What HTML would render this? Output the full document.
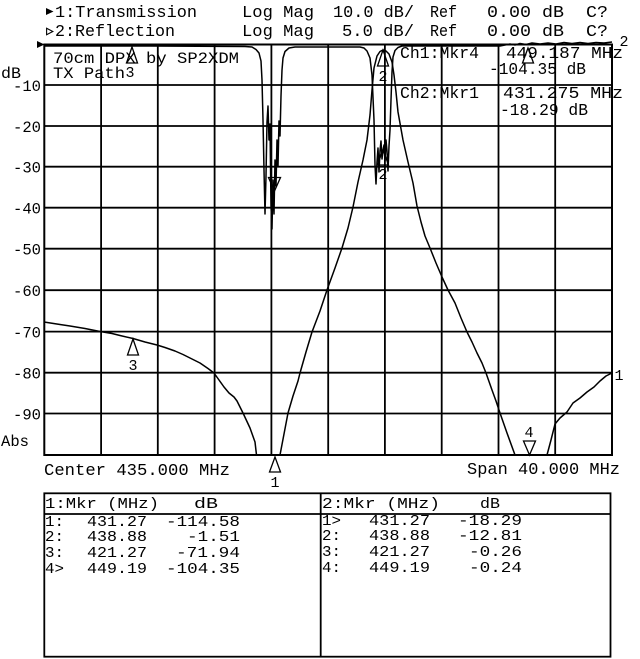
<!DOCTYPE html>
<html>
<head>
<meta charset="utf-8">
<style>
  html, body { margin: 0; padding: 0; background: #fff; }
  svg { display: block; }
  text { font-family: "Liberation Mono", "DejaVu Sans Mono", monospace; fill: #000; }
</style>
</head>
<body>
<svg width="640" height="659" viewBox="0 0 640 659" xmlns="http://www.w3.org/2000/svg">
  <rect x="0" y="0" width="640" height="659" fill="#fff"/>

  <!-- Header -->
  <polygon points="46,8 53.5,11.5 46,15" fill="#000"/>
  <polygon points="46.6,28.3 52.8,31.5 46.6,34.7" fill="none" stroke="#000" stroke-width="1.1"/>
  <g font-size="17">
    <text x="55" y="17" textLength="142" lengthAdjust="spacingAndGlyphs">1:Transmission</text>
    <text x="242" y="17" textLength="72" lengthAdjust="spacingAndGlyphs">Log Mag</text>
    <text x="333" y="17" textLength="81" lengthAdjust="spacingAndGlyphs">10.0 dB/</text>
    <text x="430" y="17" textLength="27" lengthAdjust="spacingAndGlyphs">Ref</text>
    <text x="487" y="17" textLength="77" lengthAdjust="spacingAndGlyphs">0.00 dB</text>
    <text x="586" y="17" textLength="22" lengthAdjust="spacingAndGlyphs">C?</text>

    <text x="55" y="36" textLength="120" lengthAdjust="spacingAndGlyphs">2:Reflection</text>
    <text x="242" y="36" textLength="72" lengthAdjust="spacingAndGlyphs">Log Mag</text>
    <text x="342" y="36" textLength="72" lengthAdjust="spacingAndGlyphs">5.0 dB/</text>
    <text x="430" y="36" textLength="27" lengthAdjust="spacingAndGlyphs">Ref</text>
    <text x="487" y="36" textLength="77" lengthAdjust="spacingAndGlyphs">0.00 dB</text>
    <text x="586" y="36" textLength="22" lengthAdjust="spacingAndGlyphs">C?</text>
  </g>

  <!-- reference arrow -->
  <polygon points="37,41 44.5,44.5 37,48" fill="#000"/>

  <!-- Grid -->
  <g stroke="#000" stroke-width="1.8" fill="none">
    <line x1="101.1" y1="44.5" x2="101.1" y2="455"/>
    <line x1="157.8" y1="44.5" x2="157.8" y2="455"/>
    <line x1="214.6" y1="44.5" x2="214.6" y2="455"/>
    <line x1="271.4" y1="44.5" x2="271.4" y2="455"/>
    <line x1="328.2" y1="44.5" x2="328.2" y2="455"/>
    <line x1="384.9" y1="44.5" x2="384.9" y2="455"/>
    <line x1="441.7" y1="44.5" x2="441.7" y2="455"/>
    <line x1="498.5" y1="44.5" x2="498.5" y2="455"/>
    <line x1="555.2" y1="44.5" x2="555.2" y2="455"/>

    <line x1="44.3" y1="85" x2="612" y2="85"/>
    <line x1="44.3" y1="126" x2="612" y2="126"/>
    <line x1="44.3" y1="166.7" x2="612" y2="166.7"/>
    <line x1="44.3" y1="207.7" x2="612" y2="207.7"/>
    <line x1="44.3" y1="248.7" x2="612" y2="248.7"/>
    <line x1="44.3" y1="290.2" x2="612" y2="290.2"/>
    <line x1="44.3" y1="331.6" x2="612" y2="331.6"/>
    <line x1="44.3" y1="372.7" x2="612" y2="372.7"/>
    <line x1="44.3" y1="413.5" x2="612" y2="413.5"/>
    <rect x="44.3" y="44.5" width="567.7" height="410.5" stroke-width="2"/>
  </g>

  <!-- Axis labels -->
  <g font-size="16">
    <text x="1" y="78" textLength="20" lengthAdjust="spacingAndGlyphs">dB</text>
    <text x="13" y="91" textLength="28" lengthAdjust="spacingAndGlyphs">-10</text>
    <text x="13" y="132" textLength="28" lengthAdjust="spacingAndGlyphs">-20</text>
    <text x="13" y="172.7" textLength="28" lengthAdjust="spacingAndGlyphs">-30</text>
    <text x="13" y="213.5" textLength="28" lengthAdjust="spacingAndGlyphs">-40</text>
    <text x="13" y="254.5" textLength="28" lengthAdjust="spacingAndGlyphs">-50</text>
    <text x="13" y="296" textLength="28" lengthAdjust="spacingAndGlyphs">-60</text>
    <text x="13" y="337.5" textLength="28" lengthAdjust="spacingAndGlyphs">-70</text>
    <text x="13" y="378.5" textLength="28" lengthAdjust="spacingAndGlyphs">-80</text>
    <text x="13" y="419.5" textLength="28" lengthAdjust="spacingAndGlyphs">-90</text>
    <text x="1" y="446" textLength="28" lengthAdjust="spacingAndGlyphs">Abs</text>
  </g>

  <!-- In-plot title -->
  <g font-size="16">
    <text x="53" y="63" textLength="186" lengthAdjust="spacingAndGlyphs">70cm DPX by SP2XDM</text>
    <text x="53" y="78" textLength="72" lengthAdjust="spacingAndGlyphs">TX Path</text>
  </g>

  <!-- Marker readouts -->
  <g font-size="17">
    <text x="400" y="58" textLength="79" lengthAdjust="spacingAndGlyphs">Ch1:Mkr4</text>
    <text x="506" y="58" textLength="117" lengthAdjust="spacingAndGlyphs">449.187 MHz</text>
    <text x="489" y="74" textLength="97" lengthAdjust="spacingAndGlyphs">-104.35 dB</text>
    <text x="400" y="98" textLength="79" lengthAdjust="spacingAndGlyphs">Ch2:Mkr1</text>
    <text x="503" y="98" textLength="120" lengthAdjust="spacingAndGlyphs">431.275 MHz</text>
    <text x="500" y="115" textLength="88" lengthAdjust="spacingAndGlyphs">-18.29 dB</text>
  </g>

  <!-- Channel 2 trace (reflection) -->
  <polyline fill="none" stroke="#000" stroke-width="1.5" stroke-linejoin="round" points="
    44,46 150,46 245,46.5 252,47 256,49.5 259,53 261,61 262,80 263,120 264,170 265,214 266,176 267,122 268,106 269,140 270,124 271,206 272,229 273,180 274,214 275,160 276,186 277,140 278,166 279,121 280,136 281,96 282,70 283,58 285,51.5 289,48 295,47
    360,47 364,48 367,51 370,58 372,75 374,120 375,165 376,184 377,162 378,148 379,172 380,151 381,141 382,159 383,150 384,145 385,161 386,140 387,151 388,171 389,146 390,130 391,100 392,72 393,57 395,50.5 398,47.5 402,46
    500,46 505,45 510,44 515,45 520,43.5 526,44.5 532,43 540,44 548,43 556,44 564,42.5 572,43.5 580,42.5 588,43.5 596,42.5 604,43 612,42"/>

  <!-- Channel 1 trace (transmission) -->
  <polyline fill="none" stroke="#000" stroke-width="1.5" stroke-linejoin="round" points="
    44,322 60,324.5 70,326 85,328.5 100,331.5 112,333.5 120,335.5 133,338.5 145,342 157,345 165,347.5 175,351 183,354.5 190,358 200,363 208,368.5 214,373 219,380 224,387 229,393 234,397 237,401 243,413 250,428 255,442 256.5,455 280,455 284,434 288,413 293,396 298,381 300,373 306,352 312,332 320,311 327,290 335,268 342,248 348,228 353,207 358,182 363,160 367,140 370,115 372,90 374,68 377,56 380,51.5 383,50 386,51 389,54 392,62 394,75 396,92 398,112 403,140 408,162 413,183 417,206 421,222 425,236 430,248 436,263 442,277 448,290 455,303 461,318 467,332 472,342 477,353 482,363 486,373 492,390 496,401 500,413 507,433 515,455 547,455 551,440 555,424 560,418 567,412 573,403 580,398 587,392 594,387 600,381 606,376 612,373"/>

  <!-- Markers -->
  <g fill="none" stroke="#000" stroke-width="1.3" stroke-linejoin="miter">
    <polygon points="133,339 127.5,355 138.5,355"/>
    <polygon points="275,457 269.5,472 280.5,472"/>
    <polygon points="383,50 377.5,66 388.5,66"/>
    <polygon points="523.5,441 535.5,441 529.5,455"/>
    <polygon points="132,47 126.5,63 137.5,63"/>
    <polygon points="528,48 522.5,63 533.5,63"/>
    <polygon points="383,149.5 377.5,165 388.5,165"/>
    <polygon points="268.5,177.5 280.5,177.5 274.5,191"/>
  </g>
  <g font-size="15" text-anchor="middle">
    <text x="133" y="370">3</text>
    <text x="275" y="487">1</text>
    <text x="383" y="81">2</text>
    <text x="529" y="437">4</text>
    <text x="130" y="77">3</text>
    <text x="383" y="179">2</text>
    <text x="619" y="380">1</text>
    <text x="624" y="46">2</text>
  </g>

  <!-- Center / Span -->
  <g font-size="17">
    <text x="44" y="475" textLength="186" lengthAdjust="spacingAndGlyphs">Center 435.000 MHz</text>
    <text x="467" y="474" textLength="153" lengthAdjust="spacingAndGlyphs">Span 40.000 MHz</text>
  </g>

  <!-- Marker table -->
  <g stroke="#000" stroke-width="1.8" fill="none">
    <rect x="44.3" y="493.3" width="566.2" height="163.4"/>
    <line x1="320.7" y1="493.3" x2="320.7" y2="656.7"/>
    <line x1="44.3" y1="514" x2="610.5" y2="514"/>
  </g>
  <g font-size="15">
    <text x="45" y="508" textLength="114" lengthAdjust="spacingAndGlyphs">1:Mkr (MHz)</text>
    <text x="194" y="508" textLength="24" lengthAdjust="spacingAndGlyphs">dB</text>

    <text x="45" y="526" textLength="19" lengthAdjust="spacingAndGlyphs">1:</text>
    <text x="87" y="526" textLength="60" lengthAdjust="spacingAndGlyphs">431.27</text>
    <text x="166" y="526" textLength="74" lengthAdjust="spacingAndGlyphs">-114.58</text>

    <text x="45" y="541" textLength="19" lengthAdjust="spacingAndGlyphs">2:</text>
    <text x="87" y="541" textLength="60" lengthAdjust="spacingAndGlyphs">438.88</text>
    <text x="187" y="541" textLength="53" lengthAdjust="spacingAndGlyphs">-1.51</text>

    <text x="45" y="557" textLength="19" lengthAdjust="spacingAndGlyphs">3:</text>
    <text x="87" y="557" textLength="60" lengthAdjust="spacingAndGlyphs">421.27</text>
    <text x="176" y="557" textLength="64" lengthAdjust="spacingAndGlyphs">-71.94</text>

    <text x="45" y="573" textLength="19" lengthAdjust="spacingAndGlyphs">4&gt;</text>
    <text x="87" y="573" textLength="60" lengthAdjust="spacingAndGlyphs">449.19</text>
    <text x="166" y="573" textLength="74" lengthAdjust="spacingAndGlyphs">-104.35</text>

    <text x="322" y="508" textLength="118" lengthAdjust="spacingAndGlyphs">2:Mkr (MHz)</text>
    <text x="480" y="508" textLength="20" lengthAdjust="spacingAndGlyphs">dB</text>

    <text x="322" y="525" textLength="19" lengthAdjust="spacingAndGlyphs">1&gt;</text>
    <text x="369" y="525" textLength="61" lengthAdjust="spacingAndGlyphs">431.27</text>
    <text x="458" y="525" textLength="64" lengthAdjust="spacingAndGlyphs">-18.29</text>

    <text x="322" y="540" textLength="19" lengthAdjust="spacingAndGlyphs">2:</text>
    <text x="369" y="540" textLength="61" lengthAdjust="spacingAndGlyphs">438.88</text>
    <text x="458" y="540" textLength="64" lengthAdjust="spacingAndGlyphs">-12.81</text>

    <text x="322" y="556" textLength="19" lengthAdjust="spacingAndGlyphs">3:</text>
    <text x="369" y="556" textLength="61" lengthAdjust="spacingAndGlyphs">421.27</text>
    <text x="469" y="556" textLength="53" lengthAdjust="spacingAndGlyphs">-0.26</text>

    <text x="322" y="572" textLength="19" lengthAdjust="spacingAndGlyphs">4:</text>
    <text x="369" y="572" textLength="61" lengthAdjust="spacingAndGlyphs">449.19</text>
    <text x="469" y="572" textLength="53" lengthAdjust="spacingAndGlyphs">-0.24</text>
  </g>
</svg>
</body>
</html>
